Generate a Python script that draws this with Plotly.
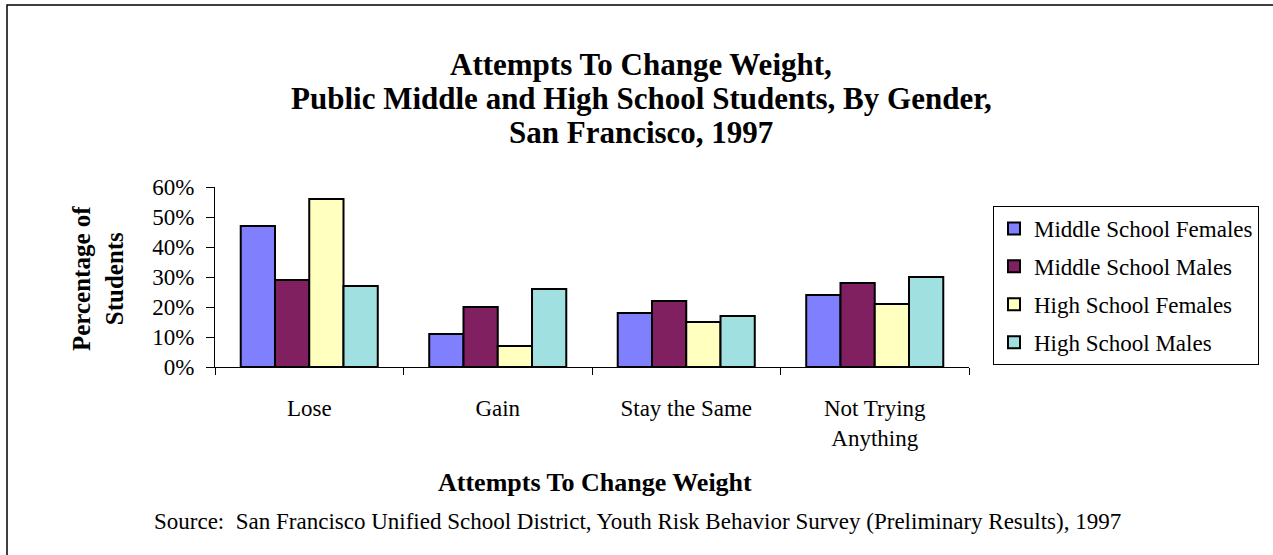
import plotly.graph_objects as go

categories = ["Lose", "Gain", "Stay the Same", "Not Trying<br>Anything"]
series_names = ["Middle School Females", "Middle School Males",
                "High School Females", "High School Males"]
ms_females = [0.47, 0.11, 0.18, 0.24]
ms_males = [0.29, 0.20, 0.22, 0.28]
hs_females = [0.56, 0.07, 0.15, 0.21]
hs_males = [0.27, 0.26, 0.17, 0.30]
y_ticks = [0, 0.1, 0.2, 0.3, 0.4, 0.5, 0.6]
y_tick_text = ["0%", "10%", "20%", "30%", "40%", "50%", "60%"]
colors = ["#8080FF", "#802060", "#FFFFC0", "#A0E0E0"]

SERIF = "Liberation Serif, Times New Roman, serif"
W, H = 1273, 555
L, R, T, B = 215, 969, 187, 367

fig = go.Figure()
for name, vals, col in zip(series_names, [ms_females, ms_males, hs_females, hs_males], colors):
    fig.add_trace(go.Bar(
        name=name, x=categories, y=vals,
        marker=dict(color=col, line=dict(color="black", width=2)),
        legendgroup=name,
    ))

def px_x(px):
    return (px - L) / (R - L)

def px_y(py):
    return (B - py) / (B - T)

annotations = []
title_lines = ["Attempts To Change Weight,",
               "Public Middle and High School Students, By Gender,",
               "San Francisco, 1997"]
for i, line in enumerate(title_lines):
    annotations.append(dict(
        text="<b>%s</b>" % line, x=px_x(641), y=px_y(64 + 34 * i),
        xref="paper", yref="paper", xanchor="center", yanchor="middle",
        showarrow=False, font=dict(family=SERIF, size=31, color="black")))
annotations.append(dict(
    text="<b>Percentage of<br>Students</b>", x=px_x(98), y=px_y(279),
    xref="paper", yref="paper", xanchor="center", yanchor="middle",
    textangle=-90, showarrow=False,
    font=dict(family=SERIF, size=25, color="black")))
annotations.append(dict(
    text="<b>Attempts To Change Weight</b>", x=px_x(595), y=px_y(482),
    xref="paper", yref="paper", xanchor="center", yanchor="middle",
    showarrow=False, font=dict(family=SERIF, size=26, color="black")))
annotations.append(dict(
    text="Source:  San Francisco Unified School District, Youth Risk Behavior Survey (Preliminary Results), 1997",
    x=px_x(637), y=px_y(521),
    xref="paper", yref="paper", xanchor="center", yanchor="middle",
    showarrow=False, font=dict(family=SERIF, size=23, color="black")))

fig.update_layout(
    width=W, height=H,
    margin=dict(l=L, r=W - R, t=T, b=H - B, pad=0),
    paper_bgcolor="white", plot_bgcolor="white",
    barmode="group", bargap=0.273, bargroupgap=0,
    font=dict(family=SERIF, size=23, color="black"),
    showlegend=True,
    legend=dict(x=px_x(993), y=px_y(206), xanchor="left", yanchor="top",
                bordercolor="black", borderwidth=1, bgcolor="white",
                font=dict(family=SERIF, size=23, color="black"),
                traceorder="grouped", tracegroupgap=5, itemwidth=30),
    xaxis=dict(type="category", showline=True, linecolor="black", linewidth=1,
               ticks="outside", tickson="boundaries", ticklen=7, tickcolor="black",
               showgrid=False, zeroline=False, ticklabelstandoff=20,
               tickfont=dict(family=SERIF, size=23, color="black")),
    yaxis=dict(range=[0, 0.6], tickvals=y_ticks, ticktext=y_tick_text,
               showline=True, linecolor="black", linewidth=1,
               ticks="outside", ticklen=8, tickcolor="black",
               showgrid=False, zeroline=False, ticklabelstandoff=7,
               tickfont=dict(family=SERIF, size=23, color="black")),
    xaxis2=dict(overlaying="x", anchor="y", side="bottom", range=[-0.5, 3.5],
                tickvals=[-0.5, 0.5, 1.5, 2.5, 3.5], ticks="inside", ticklen=5,
                tickcolor="black", showticklabels=False, showline=False,
                showgrid=False, zeroline=False),
    yaxis2=dict(overlaying="y", anchor="x", side="left", range=[0, 0.6],
                tickvals=y_ticks, ticks="inside", ticklen=8, tickcolor="black",
                showticklabels=False, showline=False, showgrid=False, zeroline=False),
    annotations=annotations,
    shapes=[dict(type="rect", xref="paper", yref="paper",
                 x0=px_x(7), x1=px_x(1300), y0=px_y(580), y1=px_y(5),
                 line=dict(color="black", width=1.5), fillcolor="rgba(0,0,0,0)",
                 layer="below")],
)

fig.write_html("out.html")
